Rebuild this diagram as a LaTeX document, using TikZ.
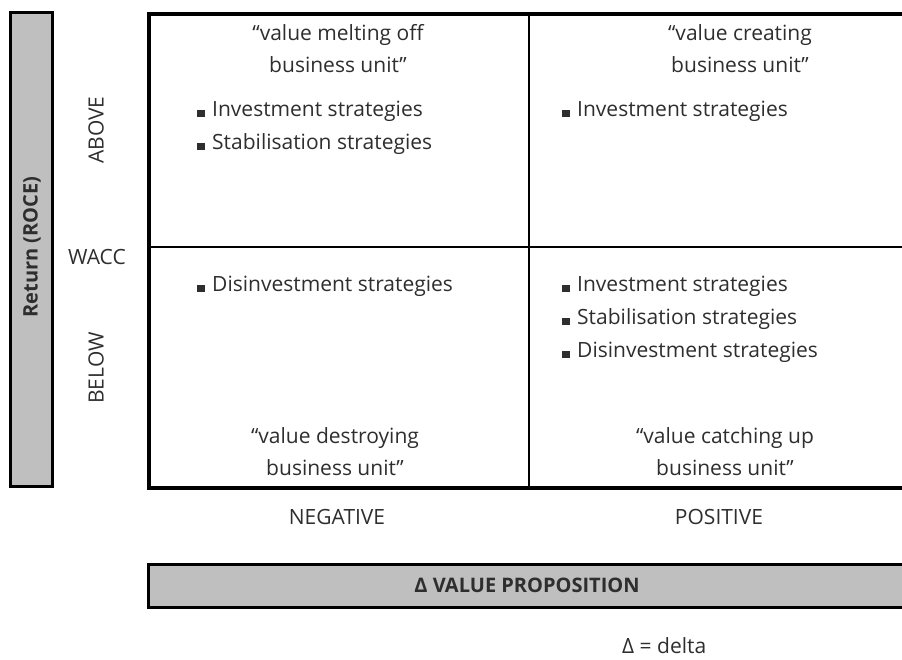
\documentclass[tikz,border=0pt]{standalone}
\usepackage{fontspec}
\setmainfont{Open Sans}
\usepackage{xcolor}
\usetikzlibrary{positioning}
\definecolor{BarGray}{HTML}{BFBFBF}
\definecolor{InkGray}{HTML}{2E2E2E}
\newcommand{\sqbul}{\textcolor{InkGray}{\rule{8pt}{7pt}}\hspace{7pt}}
\tikzset{
  axisbar/.style={draw=black, line width=3pt, fill=BarGray},
  frameline/.style={draw=black, line width=4pt},
  splitline/.style={draw=black, line width=2.5pt},
  bodytext/.style={font=\fontsize{21}{33}\selectfont, text=InkGray, inner sep=0pt}
}

\begin{document}
\begin{tikzpicture}[x=1pt, y=1pt,
  title/.style={bodytext, align=center, font=\fontsize{21}{32}\selectfont},
  list/.style={bodytext, align=left, anchor=north west},
  axislab/.style={bodytext},
  barlab/.style={font=\fontsize{20}{22}\selectfont\bfseries, text=InkGray, inner sep=0pt}
]
\useasboundingbox (0,0) rectangle (902,659);

% axis bars
\path[axisbar] (10,646) rectangle (52,172);
\path[axisbar] (148,95) rectangle (912,52);
\node[barlab, rotate=90] (roce) at (32,412) {Return (ROCE)};
\node[barlab] (valprop) at (527,74) {Δ VALUE PROPOSITION};

% portfolio grid
\draw[frameline] (912,645) -- (149,645) -- (149,171) -- (912,171);
\draw[splitline] (149,412) -- (912,412);
\draw[splitline] (529,645) -- (529,171);

% row and column labels
\node[axislab, rotate=90] (above) at (96,529) {ABOVE};
\node[axislab] (wacc) at (97,402) {WACC};
\node[axislab, rotate=90] (below) at (96,291) {BELOW};
\node[axislab] (neg) at (337,142) {NEGATIVE};
\node[axislab] (pos) at (719,142) {POSITIVE};

% quadrants
\node[title] (melt) at (338,610) {“value melting off\\business unit”};
\node[list] (meltlist) at (197,558) {\sqbul Investment strategies\\\sqbul Stabilisation strategies};

\node[title] (create) at (740,610) {“value creating\\business unit”};
\node[list] (createlist) at (562,558) {\sqbul Investment strategies};

\node[list] (destroylist) at (197,383) {\sqbul Disinvestment strategies};
\node[title] (destroy) at (335,207) {“value destroying\\business unit”};

\node[list] (catchlist) at (562,383) {\sqbul Investment strategies\\\sqbul Stabilisation strategies\\\sqbul Disinvestment strategies};
\node[title] (catch) at (725,207) {“value catching up\\business unit”};

\node[bodytext, anchor=base west] (deltakey) at (622,6) {Δ = delta};
\end{tikzpicture}
\end{document}
